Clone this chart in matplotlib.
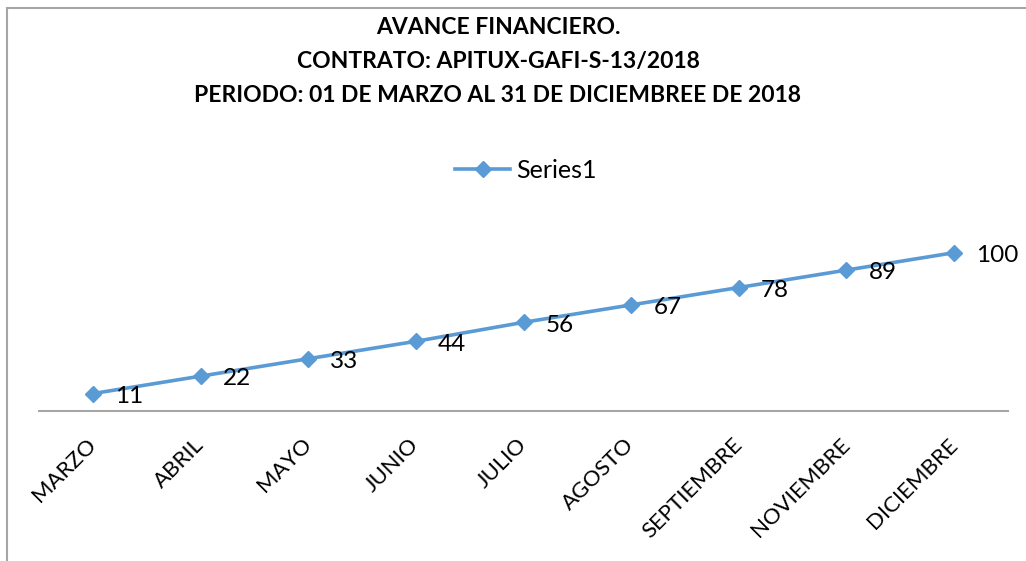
import matplotlib

matplotlib.use("Agg")
import matplotlib.pyplot as plt  # noqa: E402
from matplotlib.patches import Rectangle  # noqa: E402

months = ["MARZO", "ABRIL", "MAYO", "JUNIO", "JULIO", "AGOSTO",
          "SEPTIEMBRE", "NOVIEMBRE", "DICIEMBRE"]
avance = [11, 22, 33, 44, 56, 67, 78, 89, 100]
series_name = "Series1"
title_lines = [
    "AVANCE FINANCIERO.",
    "CONTRATO: APITUX-GAFI-S-13/2018",
    "PERIODO: 01 DE MARZO AL 31 DE DICIEMBREE DE 2018",
]

plt.rcParams["font.family"] = ["Lato", "DejaVu Sans"]
blue = "#5B9BD5"

W, H = 1026, 561
fig = plt.figure(figsize=(W / 100, H / 100), dpi=100)

# chart frame (right and bottom edges fall outside the picture)
fig.patches.append(Rectangle((7 / W, -0.1), 1.2, 1 - 8 / H + 0.1,
                             transform=fig.transFigure, fill=False,
                             edgecolor="#A6A6A6", linewidth=1.5))

# plot area: x 39..1008 px, y=0 at 411 px, y=120 at 221 px
ax = fig.add_axes([39 / W, 1 - 411 / H, (1008 - 39) / W, (411 - 221) / H])
x = [i + 0.5 for i in range(len(months))]
ax.plot(x, avance, color=blue, linewidth=2.6, marker="D", markersize=8,
        label=series_name)
for xi, v in zip(x, avance):
    ax.annotate(str(v), (xi, v), xytext=(16, -2), textcoords="offset points",
                ha="left", va="center", fontsize=17.5, color="black")

ax.set_xlim(0, len(months))
ax.set_ylim(0, 120)
ax.set_yticks([])
ax.set_xticks(x)
ax.set_xticklabels(months, rotation=45, ha="right", va="center",
                   rotation_mode="anchor", fontsize=16)
ax.tick_params(axis="x", length=0, pad=22)
for side in ["top", "right", "left"]:
    ax.spines[side].set_visible(False)
ax.spines["bottom"].set_color("#A6A6A6")
ax.spines["bottom"].set_linewidth(1.5)
ax.patch.set_alpha(0)

for i, line in enumerate(title_lines):
    fig.text(498 / W, 1 - (28 + 33.5 * i) / H, line, ha="center", va="center",
             fontsize=16.5, fontweight="bold")

fig.legend(loc="center", bbox_to_anchor=(526 / W, 1 - 170 / H), frameon=False,
           fontsize=18, handlelength=2.2, handletextpad=0.25)

fig.savefig("out.png", dpi=100)
